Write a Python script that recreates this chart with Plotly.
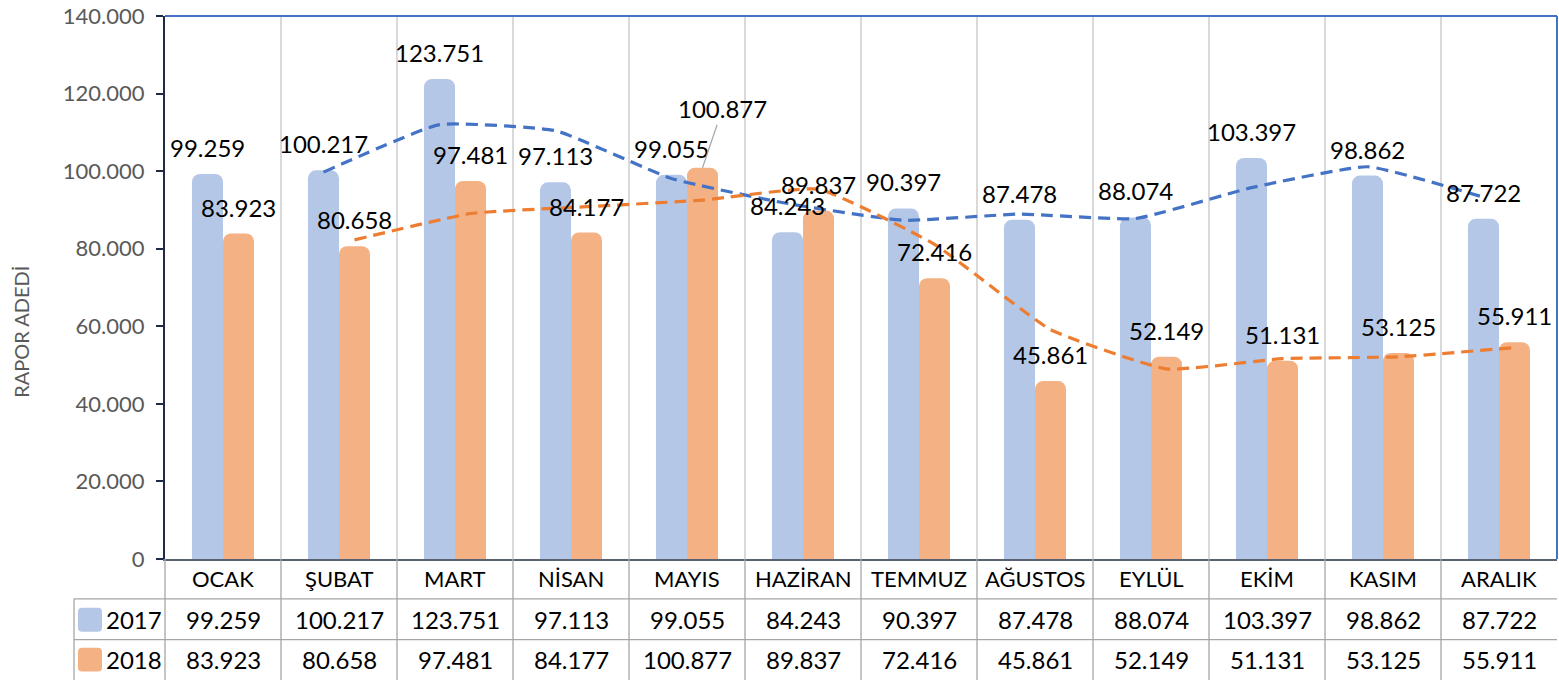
import plotly.graph_objects as go

# ---------------- data ----------------
months = ["OCAK", "ŞUBAT", "MART", "NİSAN", "MAYIS", "HAZİRAN",
          "TEMMUZ", "AĞUSTOS", "EYLÜL", "EKİM", "KASIM", "ARALIK"]
series_names = ["2017", "2018"]
values_2017 = [99259, 100217, 123751, 97113, 99055, 84243,
               90397, 87478, 88074, 103397, 98862, 87722]
values_2018 = [83923, 80658, 97481, 84177, 100877, 89837,
               72416, 45861, 52149, 51131, 53125, 55911]
y_tick_values = [0, 20000, 40000, 60000, 80000, 100000, 120000, 140000]
y_title = "RAPOR ADEDİ"

# ---------------- style / layout constants ----------------
W, H = 1559, 680
PL, PR, PT, PB = 165, 1557, 14, 559          # plot area edges in page pixels
FONT = "Lato, 'Open Sans', sans-serif"
bar_colors = ["#B4C7E7", "#F4B183"]
line_colors = ["#4472C4", "#ED7D31"]
BARGAP = 0.465
bar_w = (1 - BARGAP) / 2
offsets = [-bar_w / 2, bar_w / 2]
label_font = 24
table_font = 24
header_font = 22
grid_col = "#D9D9D9"
table_line = "#A6A6A6"

def fmt(v):
    return f"{v:,}".replace(",", ".")

def px_x(px):
    return (px - PL) / (PR - PL)

def px_y(py):
    return (PB - py) / (PB - PT)

idx = list(range(len(months)))
all_series = [values_2017, values_2018]

fig = go.Figure()

for s, vals in enumerate(all_series):
    fig.add_trace(go.Bar(
        x=idx, y=vals, name=series_names[s],
        marker=dict(color=bar_colors[s], cornerradius=8, line=dict(width=0)),
        offsetgroup=str(s),
    ))

# two-period moving average trendlines (as in the source chart)
for s, vals in enumerate(all_series):
    ma_x = [i + offsets[s] for i in idx[1:]]
    ma_y = [(vals[i - 1] + vals[i]) / 2 for i in idx[1:]]
    fig.add_trace(go.Scatter(
        x=ma_x, y=ma_y, mode="lines", showlegend=False, hoverinfo="skip",
        line=dict(color=line_colors[s], width=3.2, dash="12px,7px",
                  shape="spline", smoothing=0.4),
    ))

annotations = []
# data labels
special = {(1, 4): (20, 59)}   # (series, month) -> (dx px, dy px) leader-line label
for s, vals in enumerate(all_series):
    for i, v in enumerate(vals):
        if (s, i) in special:
            dx, dy = special[(s, i)]
            annotations.append(dict(
                x=i + offsets[s], y=v, xref="x", yref="y", text=fmt(v),
                showarrow=True, arrowhead=0, arrowwidth=1.2, arrowcolor="#A6A6A6",
                ax=dx, ay=-dy, standoff=0,
                font=dict(family=FONT, size=label_font, color="#000000"),
            ))
        else:
            annotations.append(dict(
                x=i + offsets[s], y=v, xref="x", yref="y", text=fmt(v),
                showarrow=False, yshift=26.5, yanchor="middle",
                font=dict(family=FONT, size=label_font, color="#000000"),
            ))

# data table: header row
for i, m in enumerate(months):
    annotations.append(dict(
        x=i, y=px_y(579), xref="x", yref="paper", text=m, showarrow=False,
        yanchor="middle", font=dict(family=FONT, size=header_font, color="#000000"),
    ))
row_y = [620, 660]
for s, vals in enumerate(all_series):
    annotations.append(dict(
        x=px_x(104), y=px_y(row_y[s]), xref="paper", yref="paper",
        text=series_names[s], showarrow=False, xanchor="left", yanchor="middle",
        font=dict(family=FONT, size=table_font, color="#000000"),
    ))
    for i, v in enumerate(vals):
        annotations.append(dict(
            x=i, y=px_y(row_y[s]), xref="x", yref="paper", text=fmt(v),
            showarrow=False, yanchor="middle",
            font=dict(family=FONT, size=table_font, color="#000000"),
        ))

# y axis title
annotations.append(dict(
    x=px_x(21), y=px_y(331), xref="paper", yref="paper", text=y_title,
    textangle=-90, showarrow=False, xanchor="center", yanchor="middle",
    font=dict(family=FONT, size=20, color="#595959"),
))

shapes = []
# table grid
for py in [599, 640]:
    shapes.append(dict(type="line", xref="paper", yref="paper",
                       x0=px_x(74), x1=1, y0=px_y(py), y1=px_y(py),
                       line=dict(color=table_line, width=1.3)))
shapes.append(dict(type="line", xref="paper", yref="paper",
                   x0=px_x(74), x1=px_x(74), y0=px_y(599), y1=px_y(682),
                   line=dict(color=table_line, width=1.3)))
shapes.append(dict(type="line", xref="paper", yref="paper",
                   x0=0, x1=0, y0=0, y1=px_y(682),
                   line=dict(color=table_line, width=1.3)))
for i in idx[:-1]:
    shapes.append(dict(type="line", xref="x", yref="paper",
                       x0=i + 0.5, x1=i + 0.5, y0=0, y1=px_y(682),
                       line=dict(color=table_line, width=1.3)))

# legend keys inside the table (rounded squares)
def rounded_rect(x0, y0, x1, y1, r):
    X = lambda p: px_x(p)
    Y = lambda p: px_y(p)
    return (f"M {X(x0 + r)} {Y(y0)} L {X(x1 - r)} {Y(y0)} "
            f"Q {X(x1)} {Y(y0)} {X(x1)} {Y(y0 + r)} L {X(x1)} {Y(y1 - r)} "
            f"Q {X(x1)} {Y(y1)} {X(x1 - r)} {Y(y1)} L {X(x0 + r)} {Y(y1)} "
            f"Q {X(x0)} {Y(y1)} {X(x0)} {Y(y1 - r)} L {X(x0)} {Y(y0 + r)} "
            f"Q {X(x0)} {Y(y0)} {X(x0 + r)} {Y(y0)} Z")

for s in range(2):
    cy = row_y[s]
    shapes.append(dict(type="path", xref="paper", yref="paper",
                       path=rounded_rect(78, cy - 12, 102, cy + 12, 4),
                       fillcolor=bar_colors[s], line=dict(width=0)))

# top and right plot-area border (blue)
shapes.append(dict(type="line", xref="paper", yref="paper", x0=0, x1=1, y0=1, y1=1,
                   line=dict(color="#4472C4", width=2)))
shapes.append(dict(type="line", xref="paper", yref="paper", x0=1, x1=1, y0=0, y1=1,
                   line=dict(color="#4472C4", width=2)))

fig.update_layout(
    width=W, height=H,
    margin=dict(l=PL, r=W - PR, t=PT, b=H - PB, pad=0),
    paper_bgcolor="white", plot_bgcolor="white",
    barmode="group", bargap=BARGAP, bargroupgap=0,
    showlegend=False,
    separators=",.",
    font=dict(family=FONT, color="#000000"),
    xaxis=dict(
        range=[-0.5, len(months) - 0.5],
        tickvals=[i + 0.5 for i in idx[:-1]],
        showticklabels=False, ticks="",
        showgrid=True, gridcolor=grid_col, gridwidth=2,
        zeroline=False,
        showline=True, linecolor="#5A6272", linewidth=1.5,
        fixedrange=True,
    ),
    yaxis=dict(
        range=[0, 140000],
        tickvals=y_tick_values,
        tickformat=",d",
        showgrid=False, zeroline=False,
        showline=True, linecolor="#1F2A44", linewidth=2,
        ticks="outside", ticklen=7, tickwidth=1.5, tickcolor="#1F2A44",
        ticklabelstandoff=7,
        ticklabeloverflow="allow",
        tickfont=dict(family=FONT, size=22, color="#595959"),
        fixedrange=True,
    ),
    annotations=annotations,
    shapes=shapes,
)

fig.write_html(
    "out.html",
    config={"displayModeBar": False},
    post_script="document.body.style.margin='0px';document.body.style.overflow='hidden';",
)
